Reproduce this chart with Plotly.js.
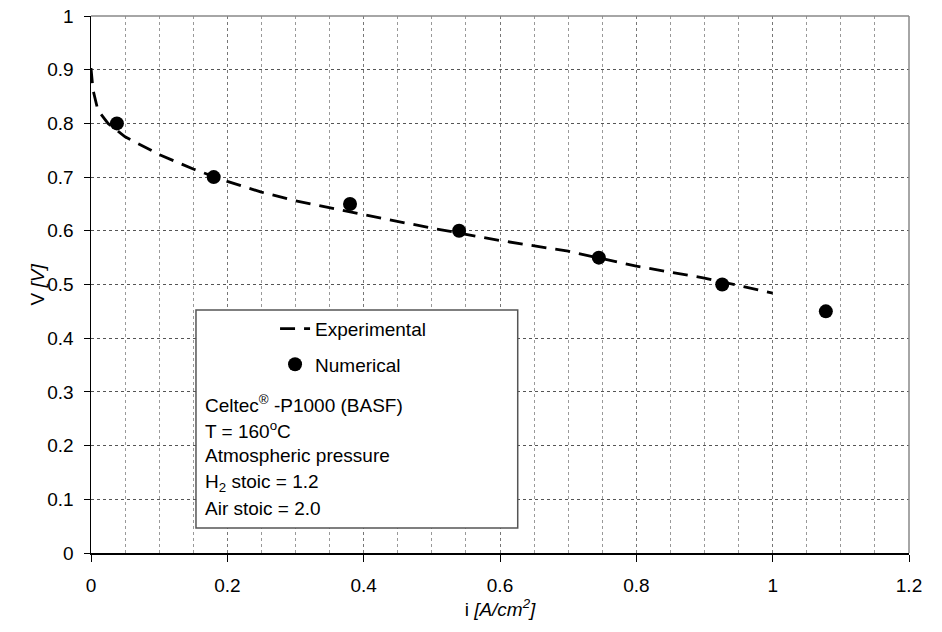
<!DOCTYPE html>
<html>
<head>
<meta charset="utf-8">
<script src="https://cdn.plot.ly/plotly-3.0.1.min.js"></script>
<style>html,body{margin:0;padding:0;background:#fff;}#chart{width:942px;height:632px;}</style>
</head>
<body>
<div id="chart"></div>
<script>
// Experimental polarization curve (dashed line)
const expCurrent = [0, 0.003, 0.01, 0.025, 0.05, 0.1, 0.15, 0.2, 0.25, 0.3, 0.4, 0.5, 0.6, 0.7, 0.8, 0.9, 1.0];
const expVoltage = [0.903, 0.862, 0.825, 0.800, 0.775, 0.742, 0.715, 0.692, 0.672, 0.656, 0.630, 0.605, 0.582, 0.562, 0.534, 0.512, 0.484];
// Numerical results (dots)
const numCurrent = [0.038, 0.18, 0.38, 0.54, 0.745, 0.926, 1.078];
const numVoltage = [0.80, 0.70, 0.65, 0.60, 0.55, 0.50, 0.45];
// Series names and info text lines
const seriesNames = ["Experimental", "Numerical"];
const infoLines = [
  "Celtec<sup>®</sup> -P1000 (BASF)",
  "T = 160<sup>o</sup>C",
  "Atmospheric pressure",
  "H<sub>2</sub> stoic = 1.2",
  "Air stoic = 2.0"
];
const infoY = [0.2775, 0.229, 0.181, 0.131, 0.083];
const xTitle = "i <i>[A/cm<sup>2</sup>]</i>";
const yTitle = "V <i>[V]</i>";

const FONT = "Liberation Sans, Arial, sans-serif";

const traces = [
  {
    x: expCurrent, y: expVoltage, name: seriesNames[0], type: "scatter", mode: "lines",
    line: {color: "#000", width: 2.8, dash: "15px,9px"},
    legendgroup: "a"
  },
  {
    x: numCurrent, y: numVoltage, name: seriesNames[1], type: "scatter", mode: "markers",
    marker: {color: "#000", size: 14},
    legendgroup: "b"
  }
];

const annotations = infoLines.map((t, i) => ({
  x: 0.164, y: infoY[i], xref: "x", yref: "y", text: t, showarrow: false,
  xanchor: "left", yanchor: "middle", align: "left",
  font: {family: FONT, size: 19, color: "#000"}
}));
// y-axis title
annotations.push({
  x: -0.066, y: 0.5, xref: "paper", yref: "paper", text: yTitle, showarrow: false,
  textangle: -90, xanchor: "center", yanchor: "middle",
  font: {family: FONT, size: 19, color: "#000"}
});

const layout = {
  width: 942, height: 632,
  margin: {l: 91, r: 33, t: 16, b: 79, pad: 0},
  paper_bgcolor: "#fff", plot_bgcolor: "#fff",
  font: {family: FONT, size: 19, color: "#000"},
  xaxis: {
    range: [0, 1.2], dtick: 0.2, tick0: 0,
    showline: true, linecolor: "#000", linewidth: 1.5,
    ticks: "outside", ticklen: 7, tickcolor: "#000", tickwidth: 1,
    showgrid: true, gridcolor: "#777", griddash: "dot", gridwidth: 1,
    minor: {dtick: 0.05, showgrid: true, gridcolor: "#999", griddash: "dot", gridwidth: 1},
    zeroline: false,
    tickfont: {family: FONT, size: 19, color: "#000"},
    ticklabelstandoff: 8,
    title: {text: xTitle, font: {family: FONT, size: 19, color: "#000"}, standoff: 6}
  },
  yaxis: {
    range: [0, 1], dtick: 0.1, tick0: 0,
    showline: true, linecolor: "#000", linewidth: 1.5,
    ticks: "outside", ticklen: 6, tickcolor: "#000", tickwidth: 1,
    showgrid: true, gridcolor: "#555", griddash: "dot", gridwidth: 1,
    zeroline: false,
    tickfont: {family: FONT, size: 19, color: "#000"},
    ticklabelstandoff: 6
  },
  showlegend: true,
  legend: {
    x: 0.225, y: 0.453, xanchor: "left", yanchor: "top",
    bgcolor: "rgba(0,0,0,0)", borderwidth: 0,
    traceorder: "grouped", tracegroupgap: 8,
    font: {family: FONT, size: 19, color: "#000"}
  },
  shapes: [
    {type: "line", xref: "paper", yref: "paper", x0: 0, x1: 1, y0: 1, y1: 1, line: {color: "#888", width: 1.5}},
    {type: "line", xref: "paper", yref: "paper", x0: 1, x1: 1, y0: 0, y1: 1, line: {color: "#888", width: 1.5}},
    {type: "rect", xref: "x", yref: "y", x0: 0.154, x1: 0.626, y0: 0.0466, y1: 0.4525,
     fillcolor: "#fff", line: {color: "#555", width: 1.5}, layer: "between"}
  ],
  annotations: annotations
};

Plotly.newPlot("chart", traces, layout, {displayModeBar: false, staticPlot: true});
</script>
</body>
</html>
